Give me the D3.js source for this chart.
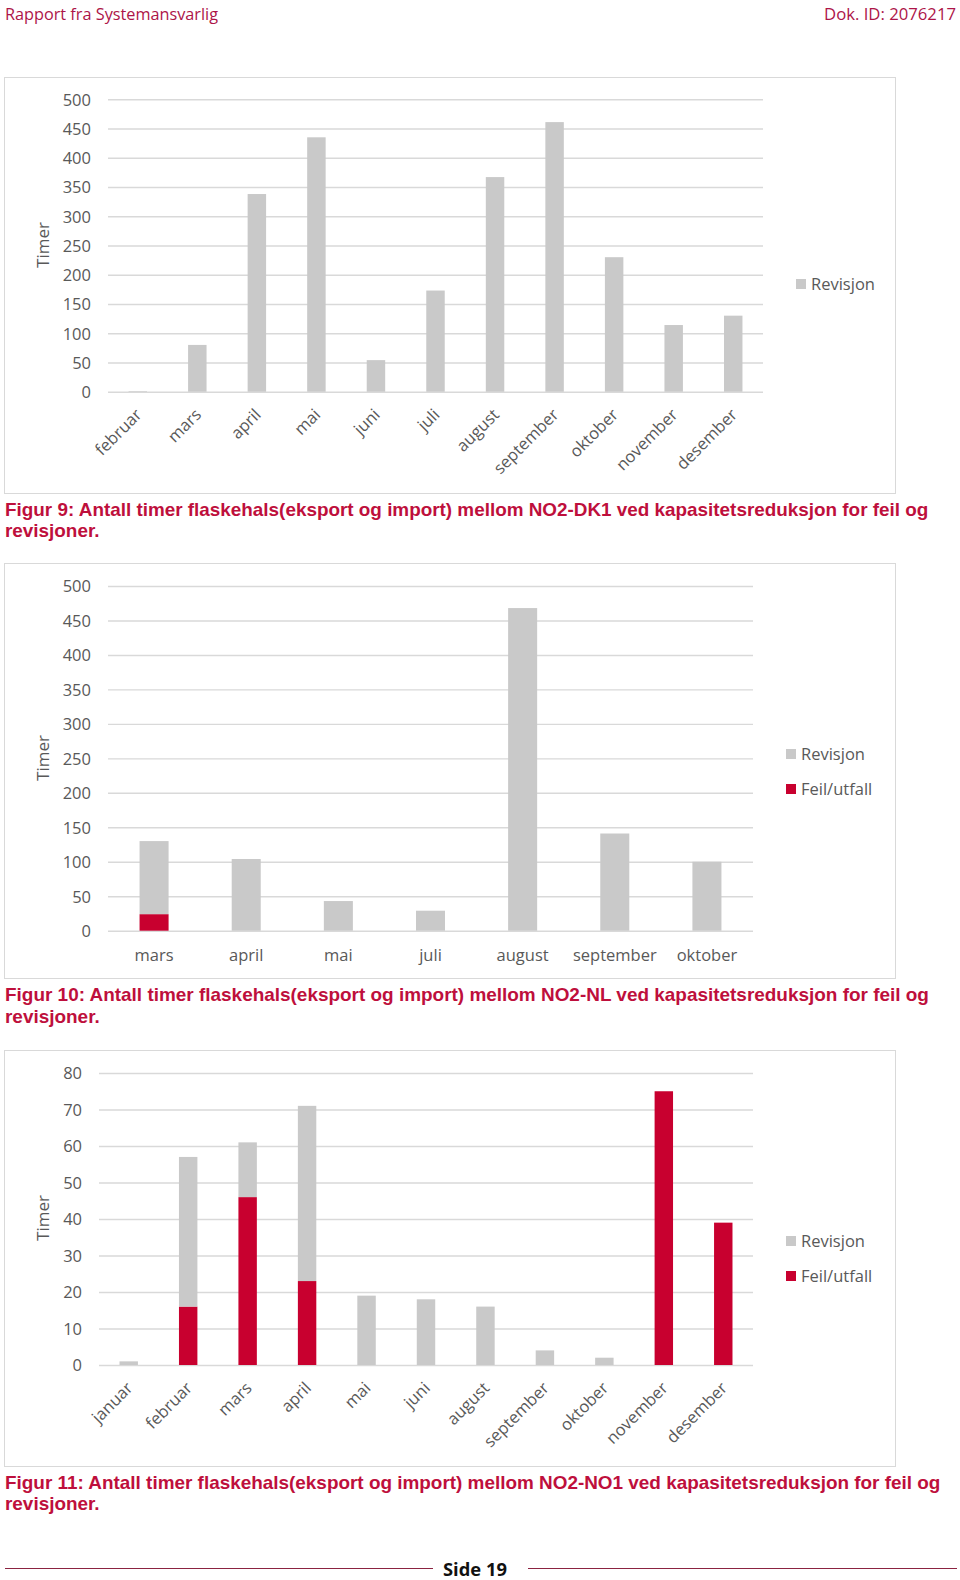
<!DOCTYPE html>
<html>
<head>
<meta charset="utf-8">
<script src="https://cdn.jsdelivr.net/npm/d3@7"></script>
<style>
  html, body { margin: 0; padding: 0; background: #fff; }
  svg { display: block; }
</style>
</head>
<body>
<svg id="page" width="960" height="1580"></svg>
<script>
// ---------- DATA ----------
const months1 = ["februar","mars","april","mai","juni","juli","august","september","oktober","november","desember"];
const revisjon1 = [1, 80, 338, 435, 54, 173, 367, 461, 230, 114, 130];

const months2 = ["mars","april","mai","juli","august","september","oktober"];
const revisjon2 = [106, 104, 43, 29, 468, 141, 100];
const feil2 = [24, 0, 0, 0, 0, 0, 0];

const months3 = ["januar","februar","mars","april","mai","juni","august","september","oktober","november","desember"];
const revisjon3 = [1, 41, 15, 48, 19, 18, 16, 4, 2, 0, 0];
const feil3 = [0, 16, 46, 23, 0, 0, 0, 0, 0, 75, 39];

const ticks500 = [0, 50, 100, 150, 200, 250, 300, 350, 400, 450, 500];
const ticks80 = [0, 10, 20, 30, 40, 50, 60, 70, 80];

const seriesNames = ["Feil/utfall", "Revisjon"];
const captions = [
  ["Figur 9: Antall timer flaskehals(eksport og import) mellom NO2-DK1 ved kapasitetsreduksjon for feil og", "revisjoner."],
  ["Figur 10: Antall timer flaskehals(eksport og import) mellom NO2-NL ved kapasitetsreduksjon for feil og", "revisjoner."],
  ["Figur 11: Antall timer flaskehals(eksport og import) mellom NO2-NO1 ved kapasitetsreduksjon for feil og", "revisjoner."]
];

// ---------- STYLE ----------
const GREY = "#C9C9C9";
const RED = "#C8002F";
const TXT = "#595959";
const GRID = "#D9D9D9";
const CAP = "#BE0F3C";
const HEAD = "#AD1448";
const FONT = "'Open Sans', sans-serif";

const svg = d3.select("#page");

function fitText(sel, width) {
  const node = sel.node();
  const fs = parseFloat(sel.attr("font-size"));
  const w = node.getComputedTextLength();
  sel.attr("font-size", (fs * width / w).toFixed(2));
}

// ---------- HEADER ----------
fitText(svg.append("text").attr("x", 5).attr("y", 20).attr("font-family", FONT)
  .attr("font-size", 16).attr("fill", HEAD).text("Rapport fra Systemansvarlig"), 213);
fitText(svg.append("text").attr("x", 956).attr("y", 20).attr("text-anchor", "end").attr("font-family", FONT)
  .attr("font-size", 16).attr("fill", HEAD).text("Dok. ID: 2076217"), 132);

// ---------- CHART FUNCTION ----------
function drawChart(cfg) {
  const g = svg.append("g");
  // frame
  g.append("rect").attr("x", cfg.box[0] + 0.5).attr("y", cfg.box[1] + 0.5)
    .attr("width", cfg.box[2] - cfg.box[0]).attr("height", cfg.box[3] - cfg.box[1])
    .attr("fill", "#fff").attr("stroke", GRID).attr("stroke-width", 1);

  const x = d3.scaleBand().domain(cfg.cats).range([cfg.x0, cfg.x1])
    .paddingInner(cfg.pad).paddingOuter(cfg.pad / 2);
  const y = d3.scaleLinear().domain([0, cfg.ymax]).range([cfg.yBottom, cfg.yTop]);

  // grid + y ticks
  const yAxis = d3.axisLeft(y).tickValues(cfg.ticks).tickSize(-(cfg.x1 - cfg.x0)).tickPadding(17);
  const ga = g.append("g").attr("transform", `translate(${cfg.x0},0)`).call(yAxis);
  ga.select(".domain").remove();
  ga.selectAll(".tick line").attr("stroke", GRID).attr("stroke-width", 1.4);
  ga.selectAll(".tick text").attr("fill", TXT).attr("font-family", FONT).attr("font-size", 16.5)
    .attr("x", cfg.tickX - cfg.x0).attr("dy", "0.36em");

  // bars (stacked)
  const rows = cfg.cats.map((c, i) => ({ cat: c, "Feil/utfall": cfg.feil ? cfg.feil[i] : 0, "Revisjon": cfg.rev[i] }));
  const stack = d3.stack().keys(seriesNames)(rows);
  const colors = { "Feil/utfall": RED, "Revisjon": GREY };
  g.append("g").selectAll("g").data(stack).join("g").attr("fill", d => colors[d.key])
    .selectAll("rect").data(d => d.filter(p => p[1] - p[0] > 0)).join("rect")
    .attr("x", d => x(d.data.cat)).attr("width", x.bandwidth())
    .attr("y", d => y(d[1])).attr("height", d => y(d[0]) - y(d[1]));

  // x labels
  const xAxis = d3.axisBottom(x).tickSize(0).tickPadding(0);
  const gx = g.append("g").attr("transform", `translate(0,${cfg.yBottom})`).call(xAxis);
  gx.select(".domain").remove();
  const lbl = gx.selectAll(".tick text").attr("fill", TXT).attr("font-family", FONT).attr("font-size", 16.5);
  if (cfg.rotate) {
    lbl.attr("text-anchor", "end").attr("dy", "0.35em")
      .attr("transform", "translate(1,20) rotate(-45)").attr("y", 0).attr("x", 0);
  } else {
    lbl.attr("y", cfg.labelDy).attr("dy", "0.35em");
  }

  // y title
  g.append("text").attr("transform", `translate(${cfg.titleX},${cfg.titleY}) rotate(-90)`)
    .attr("text-anchor", "middle").attr("dy", "0.35em").attr("fill", TXT)
    .attr("font-family", FONT).attr("font-size", 17).text("Timer");

  // legend
  const leg = g.append("g").selectAll("g").data(cfg.legend).join("g")
    .attr("transform", (d, i) => `translate(${cfg.legX},${cfg.legY + i * cfg.legStep})`);
  leg.append("rect").attr("x", 0).attr("y", -5).attr("width", 10).attr("height", 10)
    .attr("fill", d => colors[d]);
  leg.append("text").attr("x", 15).attr("dy", "0.36em").attr("fill", TXT)
    .attr("font-family", FONT).attr("font-size", 16.5).text(d => d);
}

drawChart({
  box: [4, 77, 895, 493], cats: months1, rev: revisjon1, feil: null,
  x0: 108, x1: 763, pad: 0.69, ymax: 500, yTop: 99.3, yBottom: 391.7, ticks: ticks500,
  tickX: 91, rotate: true, titleX: 43, titleY: 245,
  legend: ["Revisjon"], legX: 796, legY: 284, legStep: 0
});

drawChart({
  box: [4, 563, 895, 978], cats: months2, rev: revisjon2, feil: feil2,
  x0: 108, x1: 753, pad: 0.685, ymax: 500, yTop: 586, yBottom: 930.7, ticks: ticks500,
  tickX: 91, rotate: false, labelDy: 25, titleX: 43, titleY: 758,
  legend: ["Revisjon", "Feil/utfall"], legX: 786, legY: 754, legStep: 35
});

drawChart({
  box: [4, 1050, 895, 1466], cats: months3, rev: revisjon3, feil: feil3,
  x0: 99, x1: 753, pad: 0.69, ymax: 80, yTop: 1073, yBottom: 1365, ticks: ticks80,
  tickX: 82, rotate: true, titleX: 43, titleY: 1218,
  legend: ["Revisjon", "Feil/utfall"], legX: 786, legY: 1241, legStep: 35
});

// ---------- CAPTIONS ----------
const capY = [[516, 537], [1001, 1023], [1489, 1510]];
const capW = [924, 924, 936];
captions.forEach((c, i) => {
  const t1 = svg.append("text").attr("x", 5).attr("y", capY[i][0]).attr("font-family", "'Liberation Sans', Arial, sans-serif")
    .attr("font-weight", "bold").attr("font-size", 17).attr("fill", CAP).text(c[0]);
  fitText(t1, capW[i]);
  const fs = t1.attr("font-size");
  svg.append("text").attr("x", 5).attr("y", capY[i][1]).attr("font-family", "'Liberation Sans', Arial, sans-serif")
    .attr("font-weight", "bold").attr("font-size", fs).attr("fill", CAP).text(c[1]);
});

// ---------- FOOTER ----------
svg.append("line").attr("x1", 5).attr("x2", 433).attr("y1", 1568.5).attr("y2", 1568.5).attr("stroke", "#8B2341").attr("stroke-width", 1);
svg.append("line").attr("x1", 528).attr("x2", 957).attr("y1", 1568.5).attr("y2", 1568.5).attr("stroke", "#8B2341").attr("stroke-width", 1);
fitText(svg.append("text").attr("x", 443).attr("y", 1576).attr("font-family", FONT).attr("font-weight", "bold")
  .attr("font-size", 17).attr("fill", "#111").text("Side 19"), 64);
</script>
</body>
</html>
